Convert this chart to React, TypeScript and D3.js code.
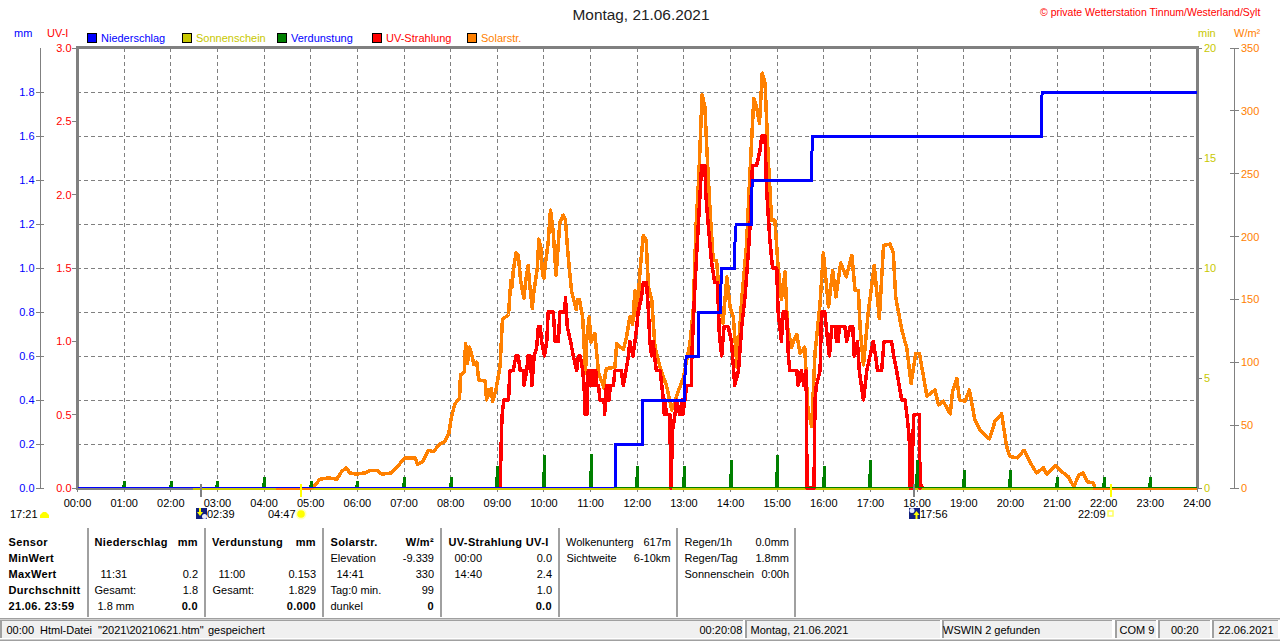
import React from "react";
import * as d3 from "d3";

const W = 1280, H = 641;
const FONT = "'Liberation Sans', Arial, sans-serif";
const hourTicks = d3.range(0, 25);
const mmTicks = [0, 0.2, 0.4, 0.6, 0.8, 1.0, 1.2, 1.4, 1.6, 1.8];
const uvTicks = [0, 0.5, 1, 1.5, 2, 2.5, 3];
const minTicks = [0, 5, 10, 15, 20];
const wTicks = [0, 50, 100, 150, 200, 250, 300, 350];

const solarPoints: [number, number][] = [
  [4.25,0],[5.0,0],[5.06,1],[5.2,7],[5.38,8],[5.56,7],[5.66,13],[5.76,16],[5.84,12],[5.98,11],[6.16,12],[6.27,14],[6.43,14],[6.52,11],[6.73,12],[6.88,18],[7.02,24],[7.24,24],[7.29,19],[7.4,21],[7.52,30],[7.63,29],[7.77,35],[7.88,37],[7.96,43.5],[8.02,57],[8.09,67],[8.19,71],[8.21,90],[8.29,92],[8.32,115],[8.36,99],[8.4,112],[8.44,108],[8.5,98],[8.56,100],[8.6,86],[8.74,85],[8.77,70],[8.81,78],[8.84,74],[8.87,79],[8.9,69],[8.97,78],[9.06,97],[9.11,134],[9.24,138],[9.29,165],[9.32,160],[9.34,172],[9.4,187],[9.45,185],[9.5,165],[9.57,151],[9.61,165],[9.66,177],[9.7,160],[9.75,143],[9.78,155],[9.86,176],[9.89,198],[9.93,192],[9.97,170],[10.0,167],[10.03,178],[10.09,195],[10.14,221],[10.2,203],[10.26,169],[10.29,185],[10.34,211],[10.41,217],[10.46,213],[10.52,184],[10.59,157],[10.69,142],[10.72,150],[10.76,150],[10.83,136],[10.89,91],[10.92,120],[10.97,136],[11.01,116],[11.09,123],[11.17,92],[11.29,79],[11.31,90],[11.34,95],[11.52,96],[11.56,115],[11.7,110],[11.77,120],[11.84,136],[11.9,130],[11.95,157],[12.0,136],[12.06,173],[12.13,201],[12.19,197],[12.24,160],[12.31,150],[12.38,112],[12.49,96],[12.63,81],[12.74,62],[12.88,77],[12.99,88],[13.13,115],[13.2,141],[13.26,208],[13.32,248],[13.39,313],[13.45,303],[13.49,271],[13.56,221],[13.63,181],[13.7,181],[13.77,150],[13.84,131],[13.92,168],[13.99,144],[14.06,136],[14.14,96],[14.24,150],[14.34,192],[14.43,261],[14.5,310],[14.56,303],[14.62,290],[14.68,330],[14.74,322],[14.81,261],[14.88,213],[14.95,213],[15.02,176],[15.09,150],[15.17,172],[15.22,128],[15.31,112],[15.36,118],[15.42,122],[15.49,107],[15.59,112],[15.66,62],[15.74,49],[15.81,107],[15.92,147],[15.99,187],[16.1,144],[16.19,173],[16.26,152],[16.36,179],[16.48,168],[16.6,185],[16.67,157],[16.74,157],[16.78,126],[16.85,98],[16.95,139],[17.08,177],[17.19,135],[17.28,193],[17.42,194],[17.49,187],[17.54,152],[17.67,126],[17.78,111],[17.87,83],[17.97,107],[18.05,107],[18.21,73],[18.38,78],[18.46,66],[18.56,69],[18.71,59],[18.76,77],[18.85,87],[18.91,70],[19.03,69],[19.12,78],[19.24,54],[19.35,46],[19.55,39],[19.67,53],[19.81,59],[19.92,33],[19.99,25],[20.15,24],[20.29,30],[20.46,18],[20.56,12],[20.71,16],[20.78,11],[20.96,18],[21.1,13],[21.24,9],[21.36,1],[21.46,10],[21.56,12],[21.65,5],[21.78,4],[21.81,0],[24,0],
];

const uvPoints: [number, number][] = [
  [9.06,0],[9.08,0.26],[9.1,0.49],[9.14,0.6],[9.24,0.6],[9.27,0.8],[9.34,0.8],[9.4,0.9],[9.45,0.9],[9.49,0.8],[9.56,0.8],[9.57,0.7],[9.63,0.8],[9.66,0.9],[9.71,0.9],[9.74,0.7],[9.79,0.9],[9.84,0.95],[9.88,1.1],[9.92,1.1],[9.95,1.0],[10.01,0.9],[10.06,1.0],[10.09,1.2],[10.2,1.2],[10.24,1.0],[10.31,1.0],[10.34,1.2],[10.45,1.2],[10.46,1.3],[10.5,1.1],[10.57,1.0],[10.63,0.9],[10.7,0.8],[10.74,0.9],[10.78,0.9],[10.83,0.8],[10.86,0.7],[10.88,0.5],[10.9,0.7],[10.92,0.5],[10.95,0.8],[10.97,0.7],[10.99,0.8],[11.01,0.7],[11.03,0.8],[11.05,0.7],[11.07,0.8],[11.09,0.7],[11.11,0.8],[11.13,0.7],[11.17,0.7],[11.2,0.6],[11.29,0.6],[11.3,0.5],[11.34,0.7],[11.36,0.6],[11.38,0.7],[11.4,0.6],[11.42,0.7],[11.49,0.7],[11.52,0.8],[11.66,0.8],[11.7,0.7],[11.76,0.8],[11.81,0.9],[11.84,1.0],[11.91,0.9],[11.99,1.1],[12.02,1.2],[12.09,1.3],[12.13,1.4],[12.2,1.4],[12.24,1.2],[12.27,1.0],[12.31,0.9],[12.34,1.0],[12.37,0.9],[12.41,0.8],[12.49,0.8],[12.56,0.6],[12.58,0.5],[12.6,0.6],[12.62,0.5],[12.7,0.5],[12.72,0],[12.76,0.4],[12.81,0.5],[12.84,0.6],[12.91,0.5],[12.96,0.6],[12.98,0.5],[13.02,0.6],[13.06,0.7],[13.16,0.7],[13.17,0.9],[13.24,1.4],[13.31,1.8],[13.38,2.2],[13.45,2.2],[13.47,2.0],[13.52,1.8],[13.59,1.55],[13.66,1.4],[13.72,1.4],[13.76,1.05],[13.81,0.9],[13.86,1.1],[13.95,1.1],[14.02,1.0],[14.09,0.7],[14.17,0.8],[14.24,1.1],[14.31,1.3],[14.38,1.6],[14.42,1.8],[14.47,2.2],[14.56,2.2],[14.63,2.3],[14.67,2.4],[14.74,2.4],[14.77,2.05],[14.84,1.7],[14.9,1.5],[14.99,1.5],[15.02,1.2],[15.09,1.0],[15.13,1.2],[15.2,1.2],[15.24,0.9],[15.27,0.8],[15.42,0.8],[15.45,0.7],[15.52,0.8],[15.57,0.7],[15.62,0.8],[15.64,0],[15.79,0],[15.81,0.6],[15.84,0.7],[15.92,0.8],[15.95,1.2],[16.02,1.2],[16.06,1.07],[16.12,0.9],[16.17,1.1],[16.25,1.1],[16.27,1.0],[16.29,1.1],[16.31,1.0],[16.33,1.1],[16.45,1.1],[16.49,1.0],[16.56,1.1],[16.62,1.1],[16.65,0.9],[16.72,1.0],[16.76,0.8],[16.85,0.6],[16.92,0.8],[16.99,0.9],[17.06,1.0],[17.11,0.9],[17.15,0.8],[17.24,0.8],[17.29,1.0],[17.45,1.0],[17.5,0.9],[17.56,0.8],[17.67,0.6],[17.74,0.6],[17.78,0.5],[17.83,0.35],[17.85,0],[17.87,0.35],[17.89,0],[17.91,0.35],[17.93,0.5],[18.05,0.5],[18.06,0],[18.09,0.02],[18.12,0],
];

const rainPoints: [number, number][] = [
  [0,0],[11.53,0],[11.53,0.2],[12.12,0.2],[12.12,0.4],[13.02,0.4],[13.02,0.5],[13.05,0.6],[13.32,0.6],[13.32,0.8],[13.79,0.8],[13.79,0.9],[13.81,1.0],[14.09,1.0],[14.09,1.1],[14.12,1.2],[14.44,1.2],[14.44,1.3],[14.47,1.4],[15.74,1.4],[15.74,1.5],[15.76,1.6],[20.66,1.6],[20.66,1.7],[20.68,1.8],[24,1.8],
];

const evapHours = d3.range(1, 24);
const evapValues = [0.03,0.03,0.03,0.05,0.03,0.03,0.05,0.05,0.10,0.15,0.153,0.10,0.10,0.127,0.15,0.10,0.127,0.127,0.08,0.08,0.05,0.05,0.05];

const sunshineZero: [number, number] = [2.47, 21.77];
const solarZero: [number, number][] = [[4.25, 5.0], [21.77, 24]];
const evapZeroBlue: [number, number] = [0, 11.5];
const evapZeroGreen: [number, number] = [11.5, 24];

const legendNames = ["Niederschlag", "Sonnenschein", "Verdunstung", "UV-Strahlung", "Solarstr."];
const legendFill = ["#0000ff", "#c8c800", "#008000", "#ff0000", "#ff8000"];
const legendText = ["#0000ff", "#c8c800", "#0000ff", "#ff0000", "#ff8000"];

const tableNotes: [number, number, string, boolean, "start" | "end"][] = [
  [8.5,0,"Sensor",true,"start"],[8.5,1,"MinWert",true,"start"],[8.5,2,"MaxWert",true,"start"],[8.5,3,"Durchschnitt",true,"start"],[8.5,4,"21.06. 23:59",true,"start"],
  [94.5,0,"Niederschlag",true,"start"],[198,0,"mm",true,"end"],[100.5,2,"11:31",false,"start"],[198,2,"0.2",false,"end"],[94.5,3,"Gesamt:",false,"start"],[198,3,"1.8",false,"end"],[97.5,4,"1.8 mm",false,"start"],[198,4,"0.0",true,"end"],
  [212,0,"Verdunstung",true,"start"],[316,0,"mm",true,"end"],[218.5,2,"11:00",false,"start"],[316,2,"0.153",false,"end"],[212.5,3,"Gesamt:",false,"start"],[316,3,"1.829",false,"end"],[316,4,"0.000",true,"end"],
  [330.5,0,"Solarstr.",true,"start"],[434,0,"W/m²",true,"end"],[330.5,1,"Elevation",false,"start"],[434,1,"-9.339",false,"end"],[336.5,2,"14:41",false,"start"],[434,2,"330",false,"end"],[330.5,3,"Tag:0 min.",false,"start"],[434,3,"99",false,"end"],[330.5,4,"dunkel",false,"start"],[434,4,"0",true,"end"],
  [448.5,0,"UV-Strahlung UV-I",true,"start"],[454.5,1,"00:00",false,"start"],[552,1,"0.0",false,"end"],[454.5,2,"14:40",false,"start"],[552,2,"2.4",false,"end"],[552,3,"1.0",false,"end"],[552,4,"0.0",true,"end"],
  [566,0,"Wolkenunterg",false,"start"],[671,0,"617m",false,"end"],[566.5,1,"Sichtweite",false,"start"],[670.5,1,"6-10km",false,"end"],
  [684.5,0,"Regen/1h",false,"start"],[789,0,"0.0mm",false,"end"],[684.5,1,"Regen/Tag",false,"start"],[789,1,"1.8mm",false,"end"],[684.5,2,"Sonnenschein",false,"start"],[789,2,"0:00h",false,"end"],
];
const tableSeparators = [88, 205, 323, 441, 559, 677, 795];
const statusTexts: [number, string][] = [
  [6.5,"00:00"],[40,"Html-Datei"],[98,"\"2021\\20210621.htm\""],[208,"gespeichert"],[699.5,"00:20:08"],[750.5,"Montag, 21.06.2021"],[943,"WSWIN 2 gefunden"],[1119.5,"COM 9"],[1171,"00:20"],[1218.5,"22.06.2021"],
];
const statusPanels: [number, number][] = [[0, 743], [745, 940], [942, 1112], [1115, 1156], [1158, 1210], [1212, 1278]];

const fmtHour = (h: number) => `${String(h).padStart(2, "0")}:00`;

function Navy({ x, up }: { x: number; up: boolean }) {
  return (
    <g>
      <rect x={x} y={508} width={11} height={11} fill="#101f80" />
      {up ? (
        <g>
          <circle cx={x + 3} cy={510.5} r={2.5} fill="#e8ecff" />
          <path d={`M${x + 7.5} 511 l3 4 h-2 v4 h-2 v-4 h-2 z`} fill="#ffff00" />
        </g>
      ) : (
        <g>
          <circle cx={x + 8.5} cy={516.5} r={2.5} fill="#e8ecff" />
          <path d={`M${x + 4} 516 l-3 -4 h2 v-4 h2 v4 h2 z`} fill="#ffff00" />
        </g>
      )}
    </g>
  );
}

export default function App() {
  const x = d3.scaleLinear().domain([0, 24]).range([77.5, 1197]);
  const yMm = d3.scaleLinear().domain([0, 2]).range([488, 48]);
  const yUv = d3.scaleLinear().domain([0, 3]).range([488, 48]);
  const yMin = d3.scaleLinear().domain([0, 20]).range([488, 48]);
  const yW = d3.scaleLinear().domain([0, 350]).range([488, 48]);
  const solarLine = d3.line<[number, number]>().x((d) => x(d[0])).y((d) => yW(d[1]));
  const uvLine = d3.line<[number, number]>().x((d) => x(d[0])).y((d) => yUv(d[1]));
  const rainLine = d3.line<[number, number]>().x((d) => x(d[0])).y((d) => yMm(d[1]));
  const gray = "#808080";
  const t = { fontFamily: FONT, fontSize: 11 } as const;
  const rowY = (r: number) => 542 + r * 16;

  return (
    <svg width={W} height={H} viewBox={`0 0 ${W} ${H}`} style={{ position: "absolute", left: 0, top: 0, display: "block", background: "#fff" }}>
      <text x={641} y={20} textAnchor="middle" fontFamily={FONT} fontSize={15.4} fill="#222">Montag, 21.06.2021</text>
      <text x={1040} y={16} fontFamily={FONT} fontSize={10.5} fill="#ff0000">© private Wetterstation Tinnum/Westerland/Sylt</text>

      <text x={14} y={37} {...t} fill="#0000ff">mm</text>
      <text x={47} y={37} {...t} fill="#ff0000">UV-I</text>
      <text x={1198} y={37} {...t} fill="#c8c800">min</text>
      <text x={1234} y={37} {...t} fill="#ff8000">W/m²</text>

      {legendNames.map((n, i) => (
        <g key={n}>
          <rect x={87.5 + 95 * i} y={33.5} width={9} height={9} fill={legendFill[i]} stroke="#000" strokeWidth={1} />
          <text x={101 + 95 * i} y={42} {...t} fill={legendText[i]}>{n}</text>
        </g>
      ))}

      {/* grid */}
      {hourTicks.slice(1, 24).map((h) => (
        <line key={h} x1={x(h)} x2={x(h)} y1={48} y2={488} stroke={gray} strokeDasharray="4 3" shapeRendering="crispEdges" />
      ))}
      {mmTicks.slice(1).map((v) => (
        <line key={v} x1={77} x2={1197} y1={yMm(v)} y2={yMm(v)} stroke={gray} strokeDasharray="4 3" shapeRendering="crispEdges" />
      ))}
      {hourTicks.map((h) => (
        <g key={h}>
          <line x1={x(h)} x2={x(h)} y1={488} y2={492} stroke={gray} shapeRendering="crispEdges" />
          <text x={x(h)} y={507} textAnchor="middle" {...t} fill="#000">{fmtHour(h)}</text>
        </g>
      ))}

      {/* frame */}
      <path d="M77 489 V47.5 H1197 V489" fill="none" stroke={gray} strokeWidth={3} shapeRendering="crispEdges" />
      <line x1={76} x2={193} y1={489} y2={489} stroke={gray} strokeWidth={2} shapeRendering="crispEdges" />

      {/* left axes */}
      <line x1={40.5} x2={40.5} y1={48} y2={488} stroke={gray} shapeRendering="crispEdges" />
      {mmTicks.map((v) => (
        <g key={v}>
          <line x1={36} x2={44} y1={yMm(v)} y2={yMm(v)} stroke={gray} shapeRendering="crispEdges" />
          <text x={34.5} y={yMm(v) + 4} textAnchor="end" {...t} fill="#0000ff">{v.toFixed(1)}</text>
        </g>
      ))}
      {uvTicks.map((v) => (
        <g key={v}>
          <line x1={72} x2={77} y1={yUv(v)} y2={yUv(v)} stroke={gray} shapeRendering="crispEdges" />
          <text x={71.5} y={yUv(v) + 4} textAnchor="end" {...t} fill="#ff0000">{v.toFixed(1)}</text>
        </g>
      ))}
      {/* right axes */}
      {minTicks.map((v) => (
        <g key={v}>
          <line x1={1197} x2={1202} y1={yMin(v)} y2={yMin(v)} stroke={gray} shapeRendering="crispEdges" />
          <text x={1204} y={yMin(v) + 4} {...t} fill="#c8c800">{v}</text>
        </g>
      ))}
      <line x1={1234.5} x2={1234.5} y1={48} y2={488} stroke={gray} shapeRendering="crispEdges" />
      {wTicks.map((v) => (
        <g key={v}>
          <line x1={1230} x2={1239} y1={yW(v)} y2={yW(v)} stroke={gray} shapeRendering="crispEdges" />
          <text x={1241} y={yW(v) + 4} {...t} fill="#ff8000">{v}</text>
        </g>
      ))}

      {/* zero baselines */}
      <line x1={x(sunshineZero[0])} x2={x(sunshineZero[1])} y1={489} y2={489} stroke="#c8c800" strokeWidth={2} shapeRendering="crispEdges" />
      {solarZero.map((s, i) => (
        <line key={i} x1={x(s[0])} x2={x(s[1])} y1={489} y2={489} stroke="#ff8000" strokeWidth={2} shapeRendering="crispEdges" />
      ))}

      {/* series */}
      <path d={solarLine(solarPoints.filter((p) => p[0] >= 5 && p[0] <= 21.81)) ?? ""} fill="none" stroke="#ff8000" strokeWidth={3.5} shapeRendering="crispEdges" strokeLinejoin="round" />
      <path d={uvLine(uvPoints) ?? ""} fill="none" stroke="#ff0000" strokeWidth={3.5} shapeRendering="crispEdges" strokeLinejoin="round" />
      <path d={rainLine(rainPoints.filter((p) => p[0] >= 11.5)) ?? ""} fill="none" stroke="#0000ff" strokeWidth={3} shapeRendering="crispEdges" strokeLinejoin="miter" />

      {/* evaporation spikes */}
      {evapHours.map((h, i) => {
        const top = yMm(evapValues[i]);
        const mid = (top + 488) / 2;
        return (
          <g key={h} fill="#008000" shapeRendering="crispEdges">
            <rect x={x(h) - 1} y={top} width={3} height={488 - top} />
            <rect x={x(h) - 2} y={mid} width={4} height={488 - mid} />
          </g>
        );
      })}
      <line x1={x(evapZeroBlue[0])} x2={x(evapZeroBlue[1])} y1={487.5} y2={487.5} stroke="#0000ff" shapeRendering="crispEdges" />
      <line x1={x(evapZeroGreen[0])} x2={x(evapZeroGreen[1])} y1={487.5} y2={487.5} stroke="#008000" shapeRendering="crispEdges" />

      {/* sunrise / sunset markers */}
      <line x1={201} x2={201} y1={484} y2={497} stroke={gray} strokeWidth={2} shapeRendering="crispEdges" />
      <line x1={914} x2={914} y1={484} y2={497} stroke={gray} strokeWidth={2} shapeRendering="crispEdges" />
      <line x1={301} x2={301} y1={484} y2={497} stroke="#ffff00" strokeWidth={2} shapeRendering="crispEdges" />
      <line x1={1111} x2={1111} y1={484} y2={497} stroke="#ffff00" strokeWidth={2} shapeRendering="crispEdges" />

      <text x={10} y={518} {...t} fill="#000">17:21</text>
      <path d="M40 518 v-3 l3 -3 h3 l3 3 v3 z" fill="#ffff00" />
      <Navy x={196} up={false} />
      <text x={207} y={518} {...t} fill="#000">02:39</text>
      <text x={268} y={518} {...t} fill="#000">04:47</text>
      <circle cx={301} cy={514} r={5.5} fill="#ffffc0" />
      <circle cx={301} cy={514} r={3.8} fill="#ffff00" />
      <Navy x={909} up={true} />
      <text x={920} y={518} {...t} fill="#000">17:56</text>
      <text x={1078} y={518} {...t} fill="#000">22:09</text>
      <rect x={1108} y={511} width={5} height={5} fill="none" stroke="#ffff60" strokeWidth={1.5} />

      {/* table */}
      {tableSeparators.map((s) => (
        <line key={s} x1={s} x2={s} y1={528} y2={617} stroke="#a0a0a0" strokeWidth={1.5} shapeRendering="crispEdges" />
      ))}
      {tableNotes.map(([tx, r, s, b, a], i) => (
        <text key={i} x={tx} y={rowY(r) + 4} textAnchor={a} {...t} fontWeight={b ? 700 : 400} letterSpacing={b ? 0.35 : 0} fill="#000">{s}</text>
      ))}

      {/* status bar */}
      <rect x={0} y={618} width={W} height={1.5} fill="#a0a0a0" />
      {statusPanels.map(([a, b], i) => (
        <g key={i} shapeRendering="crispEdges">
          <rect x={a} y={620} width={b - a} height={18} fill="#f0f0f0" />
          <rect x={a} y={620} width={2} height={18} fill="#a0a0a0" />
          <rect x={a} y={620} width={b - a} height={1} fill="#a0a0a0" />
        </g>
      ))}
      <rect x={0} y={639.5} width={W} height={1.5} fill="#a0a0a0" />
      {statusTexts.map(([tx, s], i) => (
        <text key={i} x={tx} y={634} {...t} fill="#000">{s}</text>
      ))}
    </svg>
  );
}
